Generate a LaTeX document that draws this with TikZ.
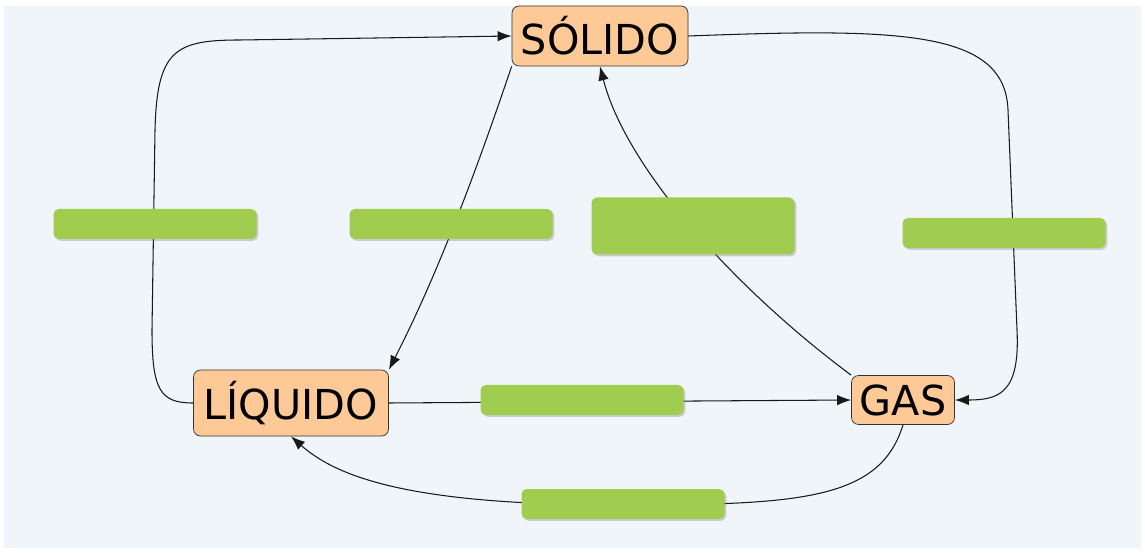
\documentclass[tikz,border=0pt]{standalone}
\usepackage{fontspec}
\setmainfont{DejaVu Sans}
\usetikzlibrary{arrows.meta,shadows}
\definecolor{bgcol}{RGB}{239,245,248}
\definecolor{statecol}{RGB}{252,201,151}
\definecolor{barcol}{RGB}{160,204,80}
\begin{document}
\begin{tikzpicture}[x = 0.02cm, y = -0.02cm]
% styles
\tikzset{statebox/.style={draw=black!80,fill=statecol,rounded corners=4pt,thin,
                          inner sep=0pt,font=\fontsize{23.5}{26}\selectfont},
         barbox/.style={fill=barcol,rounded corners=3pt,inner sep=0pt,minimum width=203*0.02cm,
                        drop shadow={shadow xshift=1pt,shadow yshift=-1pt,opacity=0.35}},
         linkline/.style={black!90,semithick,arrows = -{Latex[length=8pt,width=6pt]}}}
% background
\useasboundingbox (0,0) rectangle (1145,553);
\fill[bgcol] (4,6) rectangle (1141,548);
% states
\node[statebox,minimum width=176*0.02cm,minimum height=60*0.02cm] (sol) at (600,36) {SÓLIDO};
\node[statebox,minimum width=195*0.02cm,minimum height=66*0.02cm] (liq) at (291,403) {LÍQUIDO};
\node[statebox,minimum width=103*0.02cm,minimum height=49*0.02cm] (gas) at (903,400) {GAS};
% links
\draw[linkline] (liq.west) .. controls (160,403) and (152,390) .. (152,330)
  -- (155,130) .. controls (157,50) and (175,40) .. (240,40) -- (sol.west);
\draw[linkline] (sol.east) .. controls (900,28) and (1005,30) .. (1008,110)
  -- (1017,330) .. controls (1020,392) and (1000,400) .. (gas.east);
\draw[linkline] (sol.south west) .. controls (480,160) and (440,270) .. (liq.north east);
\draw[linkline] (gas.north west) .. controls (730,285) and (625,165) .. (sol.south);
\draw[linkline] (liq.east) -- (gas.west);
\draw[linkline] (gas.south) .. controls (880,500) and (800,505) .. (620,505)
  .. controls (420,505) and (340,480) .. (liq.south);
% bars
\node[barbox,minimum height=30*0.02cm] (b1) at (155,224) {};
\node[barbox,minimum height=30*0.02cm] (b2) at (451,224) {};
\node[barbox,minimum height=57*0.02cm] (b3) at (693,226) {};
\node[barbox,minimum height=30*0.02cm] (b4) at (1004,233) {};
\node[barbox,minimum height=30*0.02cm] (b5) at (582,400) {};
\node[barbox,minimum height=30*0.02cm] (b6) at (623,504) {};
\end{tikzpicture}
\end{document}
